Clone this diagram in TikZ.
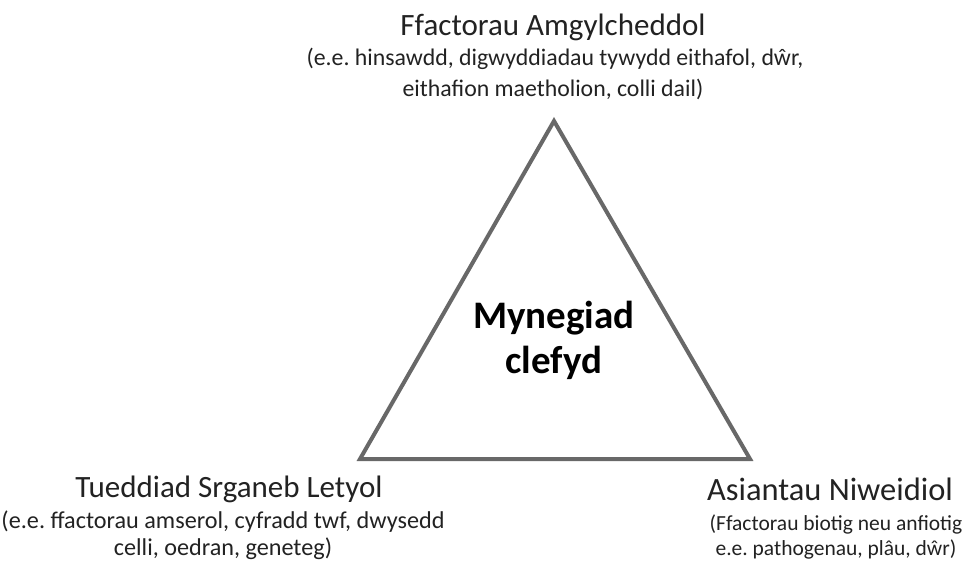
\documentclass[tikz,border=0pt]{standalone}
\usepackage{fontspec}
\setmainfont{Carlito}
\frenchspacing
\definecolor{edgegray}{HTML}{686868}
\definecolor{inkdark}{HTML}{222222}
\begin{document}
\begin{tikzpicture}[x=1pt,y=-1pt,
  heading/.style={anchor=base,inner sep=0pt,text=inkdark,font=\fontsize{31}{37}\selectfont},
  detail/.style={anchor=base,inner sep=0pt,text=inkdark,font=\fontsize{#1}{25}\selectfont},
  detail/.default=21,
  centre/.style={anchor=base,inner sep=0pt,text=black,font=\fontsize{39}{46}\selectfont\bfseries},
  edge/.style={draw=edgegray,line width=4pt,line join=miter}]
\useasboundingbox (0,0) rectangle (966,562);
\fill[white] (0,0) rectangle (966,562);

% corners of the triangle
\coordinate (apex) at (554,121);
\coordinate (left) at (360,459);
\coordinate (right) at (750,459);
\draw[edge] (apex) -- (right) -- (left) -- cycle;

% centre label
\node[centre] (c1) at (554,328) {Mynegiad};
\node[centre] (c2) at (554,373) {clefyd};

% environment (top)
\node[heading] (t0) at (553,35) {Ffactorau Amgylcheddol};
\node[detail=23.8] (t1) at (555,65) {(e.e. hinsawdd, digwyddiadau tywydd eithafol, dŵr,};
\node[detail=23.8] (t2) at (553,96) {eithafion maetholion, colli dail)};

% host (bottom left)
\node[heading] (l0) at (229,497) {Tueddiad Srganeb Letyol};
\node[detail=24.2] (l1) at (223,528) {(e.e. ffactorau amserol, cyfradd twf, dwysedd};
\node[detail=24.2] (l2) at (223,555) {celli, oedran, geneteg)};

% agent (bottom right)
\node[heading,font=\fontsize{32.5}{39}\selectfont] (r0) at (830,500) {Asiantau Niweidiol};
\node[detail=21.5] (r1) at (836,530) {(Ffactorau biotig neu anfiotig};
\node[detail=21.5] (r2) at (836,555) {e.e. pathogenau, plâu, dŵr)};
\end{tikzpicture}
\end{document}
